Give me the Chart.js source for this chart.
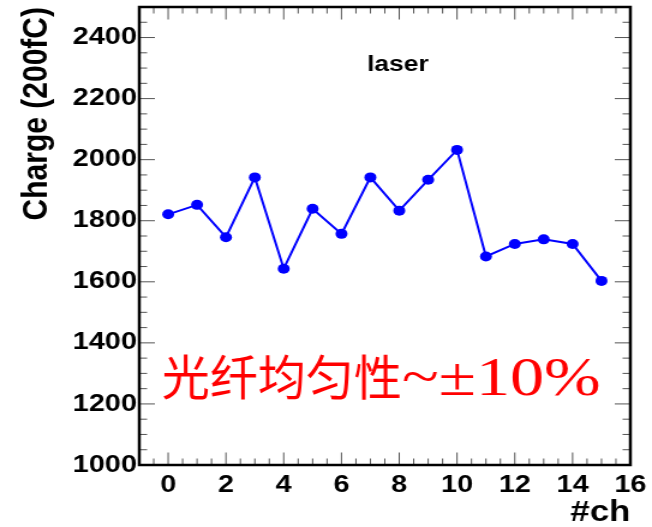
<!DOCTYPE html>
<html>
<head>
<meta charset="utf-8">
<script src="https://cdn.jsdelivr.net/npm/chart.js@4/dist/chart.umd.min.js"></script>
<style>
  html, body { margin: 0; padding: 0; background: #ffffff; overflow: hidden; }
  /* the plot is drawn narrow and widened horizontally, like the exported canvas it mirrors */
  #wrap { width: 543px; height: 527px; transform: scaleX(1.2007); transform-origin: 0 0; }
</style>
</head>
<body>
<div id="wrap"><canvas id="c" width="543" height="527"></canvas></div>
<script>
// channel numbers and measured laser charge per channel
const channels = [0, 1, 2, 3, 4, 5, 6, 7, 8, 9, 10, 11, 12, 13, 14, 15];
const charge   = [1821, 1852, 1746, 1942, 1643, 1839, 1757, 1942, 1833, 1934, 2032, 1683, 1724, 1739, 1724, 1603];

// axis tick labels
const xTickValues = [0, 2, 4, 6, 8, 10, 12, 14, 16];
const yTickValues = [1000, 1200, 1400, 1600, 1800, 2000, 2200, 2400];

// texts
const xTitle = '#ch';
const yTitle = 'Charge (200fC)';
const runLabel = 'laser';
const noteCjk = '光纤均匀性';
const noteLatin = '~\u00B110%';

const STRETCH = 1.2007;

// frame with inward ticks on all four sides, plus the annotations
const frameTicks = {
  id: 'frameTicks',
  afterDatasetsDraw(chart) {
    const { ctx, chartArea: a, scales: { x, y } } = chart;
    ctx.save();

    // ticks
    ctx.strokeStyle = '#555555';
    ctx.lineWidth = 1;
    ctx.beginPath();
    for (let i = 0; i <= 34; i++) {
      const v = -1 + i * 0.5;
      const px = x.getPixelForValue(v);
      const major = (i % 4) === 2;
      const len = major ? 12.5 : 6.5;
      ctx.moveTo(px, a.bottom); ctx.lineTo(px, a.bottom - len);
      ctx.moveTo(px, a.top);    ctx.lineTo(px, a.top + len);
    }
    for (let v = 1000; v <= 2500; v += 50) {
      const py = y.getPixelForValue(v);
      const major = (v % 200) === 0;
      const len = major ? 13 : 6.5;
      ctx.moveTo(a.left, py);  ctx.lineTo(a.left + len, py);
      ctx.moveTo(a.right, py); ctx.lineTo(a.right - len, py);
    }
    ctx.stroke();

    // frame
    ctx.strokeStyle = '#000000';
    ctx.lineWidth = 2.5;
    ctx.strokeRect(a.left, a.top, a.right - a.left, a.bottom - a.top);

    // run label
    ctx.fillStyle = '#000000';
    ctx.font = 'bold 22px "Liberation Sans", Arial, sans-serif';
    ctx.textAlign = 'center';
    ctx.textBaseline = 'middle';
    ctx.fillText(runLabel, x.getPixelForValue(7.95), y.getPixelForValue(2310));

    // uniformity note (kept at its own proportions)
    const nx = x.getPixelForValue(-0.22);
    const ny = y.getPixelForValue(1230);
    ctx.translate(nx, ny);
    ctx.scale(1 / STRETCH, 1);
    ctx.fillStyle = '#ff0000';
    ctx.textAlign = 'left';
    ctx.textBaseline = 'alphabetic';
    ctx.font = '48px "Noto Sans CJK SC", sans-serif';
    ctx.fillText(noteCjk, 0, 0);
    const w = ctx.measureText(noteCjk).width;
    ctx.translate(w, 0);
    ctx.scale(1.26, 1);
    ctx.font = '54px "Liberation Serif", "Times New Roman", serif';
    ctx.fillText(noteLatin, 0, 0);

    ctx.restore();
  }
};

const tickFont = { family: '"Liberation Sans", Arial, sans-serif', size: 24, weight: 'bold' };
const plainNumber = v => String(v);

new Chart(document.getElementById('c'), {
  type: 'line',
  data: {
    datasets: [{
      data: channels.map((c, i) => ({ x: c, y: charge[i] })),
      borderColor: '#0000ff',
      backgroundColor: '#0000ff',
      borderWidth: 2,
      pointRadius: 5,
      pointHoverRadius: 5,
      pointBackgroundColor: '#0000ff',
      pointBorderWidth: 0,
      tension: 0,
      clip: false
    }]
  },
  options: {
    responsive: false,
    animation: false,
    devicePixelRatio: 1,
    events: [],
    layout: { padding: { top: 7, right: 18, bottom: 0, left: 0 } },
    plugins: { legend: { display: false }, tooltip: { enabled: false } },
    scales: {
      x: {
        type: 'linear',
        min: -1,
        max: 16,
        grid: { display: false, drawTicks: false },
        border: { display: false },
        afterBuildTicks: s => { s.ticks = xTickValues.map(v => ({ value: v })); },
        afterFit: s => { s.height = 62; s.paddingLeft = 0; s.paddingRight = 0; },
        ticks: { color: '#000000', font: tickFont, padding: 6, maxRotation: 0, autoSkip: false, callback: plainNumber },
        title: {
          display: true, text: xTitle, align: 'end', color: '#000000',
          font: { family: '"Liberation Sans", Arial, sans-serif', size: 29, weight: 'bold', lineHeight: 1 },
          padding: { top: 0, bottom: 0 }
        }
      },
      y: {
        type: 'linear',
        min: 1000,
        max: 2500,
        grid: { display: false, drawTicks: false },
        border: { display: false },
        afterBuildTicks: s => { s.ticks = yTickValues.map(v => ({ value: v })); },
        afterFit: s => { s.width = 116; s.paddingTop = 0; s.paddingBottom = 0; },
        ticks: { color: '#000000', font: tickFont, padding: 2, autoSkip: false, callback: plainNumber },
        title: {
          display: true, text: yTitle, align: 'end', color: '#000000',
          font: { family: '"Liberation Sans", Arial, sans-serif', size: 30, weight: 'bold' },
          padding: { top: 13, bottom: 0 }
        }
      }
    }
  },
  plugins: [frameTicks]
});
</script>
</body>
</html>
